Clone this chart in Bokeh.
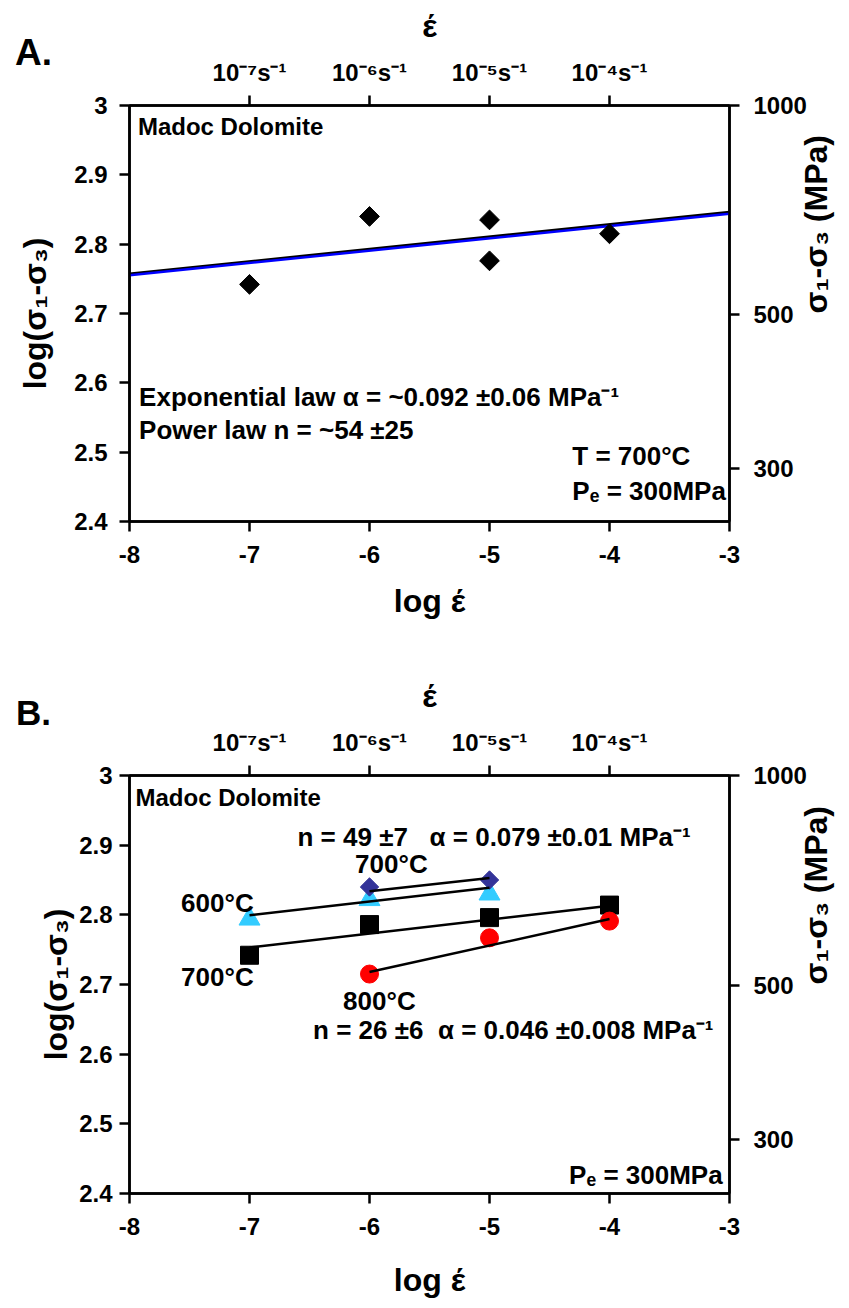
import math
from bokeh.plotting import figure
from bokeh.models import LinearAxis, FixedTicker, Range1d, LogScale, Label
from bokeh.layouts import column
from bokeh.embed import file_html
from bokeh.resources import INLINE

# ---------------- data ----------------
x_ticks = [-8, -7, -6, -5, -4, -3]
x_tick_labels = ["-8", "-7", "-6", "-5", "-4", "-3"]
y_ticks = [2.4, 2.5, 2.6, 2.7, 2.8, 2.9, 3.0]
y_tick_labels = ["2.4", "2.5", "2.6", "2.7", "2.8", "2.9", "3"]
top_ticks = [-7, -6, -5, -4]
top_tick_labels = ["10⁻⁷s⁻¹", "10⁻⁶s⁻¹", "10⁻⁵s⁻¹", "10⁻⁴s⁻¹"]
mpa_ticks = [300, 500, 1000]

# Panel A (700 C)
a_x = [-7, -6, -5, -5, -4]
a_y = [2.742, 2.840, 2.835, 2.776, 2.815]
a_fit_x = [-8, -3]
a_fit_y = [2.755, 2.844]

# Panel B
tri_x = [-7, -6, -5]            # 600 C
tri_y = [2.794, 2.822, 2.830]
tri_fit_x = [-7, -5]
tri_fit_y = [2.7995, 2.839]

dia_x = [-6, -5]                # 700 C (diamonds)
dia_y = [2.840, 2.850]
dia_fit_x = [-6, -5]
dia_fit_y = [2.834, 2.853]

sq_x = [-7, -6, -5, -4]         # 700 C (squares)
sq_y = [2.742, 2.786, 2.796, 2.814]
sq_fit_x = [-7, -4]
sq_fit_y = [2.753, 2.813]

ci_x = [-6, -5, -4]             # 800 C
ci_y = [2.715, 2.767, 2.791]
ci_fit_x = [-6, -4]
ci_fit_y = [2.718, 2.794]

FONT = "Liberation Sans"
NB = "\u00a0"


def style_axis(ax):
    ax.axis_line_width = 2.5
    ax.axis_line_color = "black"
    ax.major_tick_line_width = 2.5
    ax.major_tick_line_color = "black"
    ax.major_tick_out = 10
    ax.major_tick_in = 0
    ax.minor_tick_line_color = None
    ax.major_label_text_font = FONT
    ax.major_label_text_font_style = "bold"
    ax.major_label_text_font_size = "24px"
    ax.major_label_text_color = "black"
    ax.axis_label_text_font = FONT
    ax.axis_label_text_font_style = "bold"
    ax.axis_label_text_font_size = "32px"
    ax.axis_label_text_color = "black"


def make_panel(frame_h, border_top, border_bottom, xlab_standoff, ylab_standoff, ytick_standoff):
    p = figure(x_range=Range1d(-8, -3), y_range=Range1d(2.4, 3.0),
               frame_width=600, frame_height=frame_h,
               min_border_left=128, min_border_right=117,
               min_border_top=border_top, min_border_bottom=border_bottom,
               output_backend="svg", toolbar_location=None)
    p.xgrid.visible = False
    p.ygrid.visible = False
    p.outline_line_color = "black"
    p.outline_line_width = 2.5
    p.background_fill_color = "white"
    p.border_fill_color = "white"

    xa = p.xaxis[0]
    xa.ticker = FixedTicker(ticks=x_ticks)
    xa.major_label_overrides = {t: l for t, l in zip(x_ticks, x_tick_labels)}
    xa.axis_label = "log έ"
    style_axis(xa)
    xa.major_label_standoff = 14
    xa.axis_label_standoff = xlab_standoff

    ya = p.yaxis[0]
    ya.ticker = FixedTicker(ticks=y_ticks)
    ya.major_label_overrides = {t: l for t, l in zip(y_ticks, y_tick_labels)}
    ya.axis_label = "log(σ₁-σ₃)"
    style_axis(ya)
    ya.major_label_standoff = ytick_standoff
    ya.axis_label_standoff = ylab_standoff

    top = LinearAxis(ticker=FixedTicker(ticks=top_ticks),
                     major_label_overrides={t: l for t, l in zip(top_ticks, top_tick_labels)},
                     axis_label="έ")
    style_axis(top)
    top.major_label_standoff = 10
    top.axis_label_standoff = 12
    p.add_layout(top, "above")

    p.extra_y_ranges = {"mpa": Range1d(10 ** 2.4, 1000)}
    p.extra_y_scales = {"mpa": LogScale()}
    right = LinearAxis(y_range_name="mpa", ticker=FixedTicker(ticks=mpa_ticks),
                       axis_label="σ₁-σ₃ (MPa)")
    style_axis(right)
    right.major_label_standoff = 14
    right.axis_label_standoff = 6
    try:
        right.axis_label_orientation = math.pi / 2
    except Exception:
        pass
    p.add_layout(right, "right")
    return p


def add_text(p, x, y, txt, size="26px", align="left"):
    p.add_layout(Label(x=x, y=y, text=txt, text_font=FONT,
                       text_font_style="bold", text_font_size=size,
                       text_baseline="middle", text_align=align, text_color="black"))


def panel_letter(p, x, y, txt, size, side):
    # placed in a side panel so that it is not clipped to the plot frame
    p.add_layout(Label(x=x, y=y, text=txt, text_font=FONT, text_font_style="bold",
                       text_font_size=size, text_color="black",
                       text_baseline="middle", text_align="center"), side)


# ---------------- Panel A ----------------
pa = make_panel(416, 105, 147, 17, 18, 12)
pa.line(a_fit_x, [v + 0.002 for v in a_fit_y], line_color="black", line_width=3)
pa.line(a_fit_x, a_fit_y, line_color="#0000ff", line_width=2.5)
pa.scatter(a_x, a_y, marker="square", angle=math.pi / 4, size=14,
           fill_color="black", line_color="black")

add_text(pa, -7.93, 2.969, "Madoc Dolomite", size="24px")
add_text(pa, -7.92, 2.580, "Exponential law α = ~0.092 ±0.06 MPa⁻¹")
add_text(pa, -7.92, 2.532, "Power law n = ~54 ±25")
add_text(pa, -4.31, 2.495, "T = 700°C")
add_text(pa, -4.31, 2.444, "Pₑ = 300MPa")
panel_letter(pa, -8.8, 3.076, "A.", "37px", "below")

# ---------------- Panel B ----------------
pb = make_panel(418, 107, 113, 24, 2, 7)
pb.scatter(tri_x, tri_y, marker="triangle", size=21, fill_color="#33ccff", line_color="#33ccff")
pb.scatter(dia_x, dia_y, marker="square", angle=math.pi / 4, size=13,
           fill_color="#333399", line_color="#333399")
pb.scatter(sq_x, sq_y, marker="square", size=18, fill_color="black", line_color="black")
pb.scatter(ci_x, ci_y, marker="circle", size=18, fill_color="#ff0000", line_color="#ff0000")
pb.line(tri_fit_x, tri_fit_y, line_color="black", line_width=2.5)
pb.line(dia_fit_x, dia_fit_y, line_color="black", line_width=2.5)
pb.line(sq_fit_x, sq_fit_y, line_color="black", line_width=2.5)
pb.line(ci_fit_x, ci_fit_y, line_color="black", line_width=2.5)

add_text(pb, -7.95, 2.969, "Madoc Dolomite", size="24px")
add_text(pb, -6.60, 2.912, "n = 49 ±7" + NB * 3 + "α = 0.079 ±0.01 MPa⁻¹")
add_text(pb, -6.12, 2.873, "700°C")
add_text(pb, -7.57, 2.817, "600°C")
add_text(pb, -7.57, 2.711, "700°C")
add_text(pb, -6.22, 2.676, "800°C")
add_text(pb, -6.47, 2.635, "n = 26 ±6" + NB * 2 + "α = 0.046 ±0.008 MPa⁻¹")
add_text(pb, -3.057, 2.426, "Pₑ = 300MPa", align="right")
panel_letter(pb, -8.8, 3.09, "B.", "35px", "left")

layout = column(pa, pb)
open("out.html", "w").write(file_html(layout, INLINE))
